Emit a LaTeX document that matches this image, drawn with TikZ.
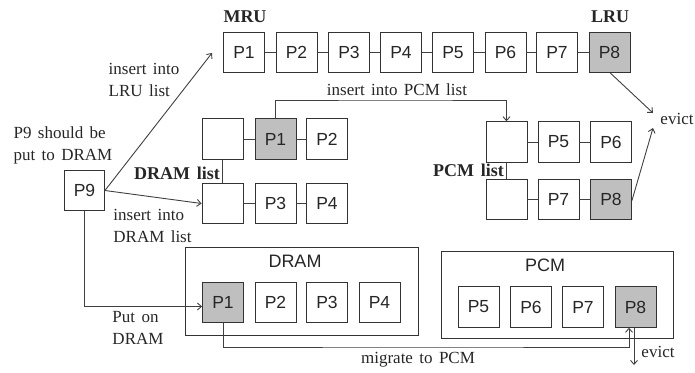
\documentclass[tikz,border=0pt]{standalone}
\usepackage{fontspec}
\setmainfont{Liberation Serif}[WordSpace=1.5]
\newfontfamily\boxfont{Liberation Sans}
\usetikzlibrary{arrows.meta}
\tikzset{
  x=1pt, y=-1pt,
  pg/.style={draw=black!80, line width=0.9pt, minimum width=41pt, minimum height=40.5pt, inner sep=0pt, font=\boxfont\fontsize{17.5}{20}\selectfont, text=black!85},
  pgg/.style={pg, fill=black!25},
  memb/.style={draw=black!80, line width=0.9pt, inner sep=0pt},
  conn/.style={draw=black!75, line width=0.9pt},
  arr/.style={conn, -{Straight Barb[length=4pt,width=7pt]}},
  ann/.style={font=\fontsize{17}{22}\selectfont, align=left, inner sep=0pt, text=black!85},
  bld/.style={font=\bfseries\fontsize{18}{22}\selectfont, inner sep=0pt, text=black!85},
  mlabel/.style={font=\boxfont\fontsize{18}{20}\selectfont, inner sep=0pt, text=black!85}
}
\begin{document}
\begin{tikzpicture}
\useasboundingbox (0,0) rectangle (695,372);
% memory boxes
\node[memb, minimum width=233pt, minimum height=88pt] (dram) at (301.5,291) {};
\node[memb, minimum width=232pt, minimum height=87pt] (pcm) at (557,294.5) {};
\node[mlabel] (dramlab) at (295,261) {DRAM};
\node[mlabel] (pcmlab) at (545,265) {PCM};
% top LRU list
\node[pg] (t1) at (244,52.5) {P1};
\node[pg] (t2) at (296.5,52.5) {P2};
\node[pg] (t3) at (349,52.5) {P3};
\node[pg] (t4) at (401,52.5) {P4};
\node[pg] (t5) at (453,52.5) {P5};
\node[pg] (t6) at (505.5,52.5) {P6};
\node[pg] (t7) at (557,52.5) {P7};
\node[pgg] (t8) at (609.5,52.5) {P8};
\foreach \a/\b in {t1/t2,t2/t3,t3/t4,t4/t5,t5/t6,t6/t7,t7/t8}
  \draw[conn] (\a) -- (\b);
\node[bld] (mru) at (245,17) {MRU};
\node[bld] (lru) at (610,17) {LRU};
% DRAM list
\node[pg] (d0) at (222.5,139) {};
\node[pgg] (d1) at (275.5,139) {P1};
\node[pg] (d2) at (327,139) {P2};
\node[pg] (e0) at (222.5,203.5) {};
\node[pg] (e1) at (275.5,203.5) {P3};
\node[pg] (e2) at (327,203.5) {P4};
\draw[conn] (d0) -- (d1);
\draw[conn] (d1) -- (d2);
\draw[conn] (e0) -- (e1);
\draw[conn] (e1) -- (e2);
\draw[conn] (d0.south) -- (e0.north);
\node[bld, anchor=east] (dlist) at (220,173) {DRAM list};
% PCM list
\node[pg] (c0) at (506.5,142) {};
\node[pg] (c1) at (558.5,142) {P5};
\node[pg] (c2) at (611,142) {P6};
\node[pg] (f0) at (506.5,199.5) {};
\node[pg] (f1) at (558.5,199.5) {P7};
\node[pgg] (f2) at (611,199.5) {P8};
\draw[conn] (c0) -- (c1);
\draw[conn] (c1) -- (c2);
\draw[conn] (f0) -- (f1);
\draw[conn] (f1) -- (f2);
\draw[conn] (c0.south) -- (f0.north);
\node[bld, anchor=east] (clist) at (504,170) {PCM list};
% DRAM memory pages
\node[pgg] (m1) at (223,302.5) {P1};
\node[pg] (m2) at (275.5,302.5) {P2};
\node[pg] (m3) at (327,302.5) {P3};
\node[pg] (m4) at (379.5,302.5) {P4};
% PCM memory pages
\node[pg] (q5) at (478.5,307) {P5};
\node[pg] (q6) at (531,307) {P6};
\node[pg] (q7) at (583,307) {P7};
\node[pgg] (q8) at (635.5,307) {P8};
% P9
\node[pg, minimum width=40pt] (p9) at (84.5,190.5) {P9};
\node[ann] (p9txt) at (63,145) {P9 should be\\put to DRAM};
% arrows from P9
\coordinate (lruin) at (212,53);
\draw[arr] (p9.east) -- (lruin);
\node[ann] (lrutxt) at (144,80) {insert into\\LRU list};
\draw[arr] (p9.east) -- (e0.west);
\node[ann] (dltxt) at (152.5,226) {insert into\\DRAM list};
\draw[arr] (p9.south) |- ([yshift=-4pt]m1.west);
\node[ann] (puttxt) at (138,328) {Put on\\DRAM};
% insert into PCM list
\coordinate (pcmrt) at (400,100);
\draw[arr] (d1.north) |- (pcmrt) -| (c0.north);
\node[ann] (pcmtxt) at (397,90) {insert into PCM list};
% evictions
\node[ann] (ev1) at (677,119) {evict};
\coordinate (ev1a) at (653,113);
\coordinate (ev1b) at (653,128);
\draw[arr] ([xshift=1pt]t8.south) -- (ev1a);
\draw[arr] ([yshift=-1pt]f2.east) -- (ev1b);
% migrate
\coordinate (mig) at (420,347);
\draw[arr] (m1.south) |- (mig) -| ([xshift=-6.5pt]q8.south);
\node[ann] (migtxt) at (418,360) {migrate to PCM};
\coordinate (ev2a) at (634,365);
\draw[arr] ([xshift=-1.5pt]q8.south) -- (ev2a);
\node[ann] (ev2) at (658,352) {evict};
\end{tikzpicture}
\end{document}
